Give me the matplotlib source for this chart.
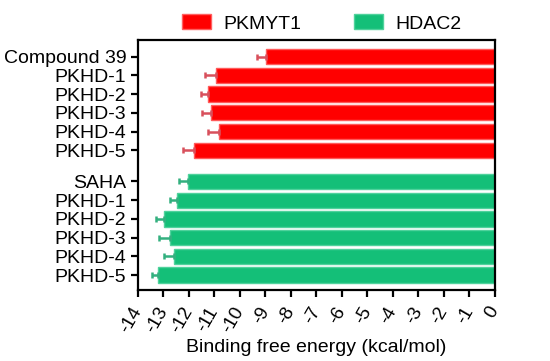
import numpy as np
import matplotlib
matplotlib.use('Agg')
import matplotlib.pyplot as plt
from matplotlib.patches import Patch

plt.rcParams['font.family'] = ['Liberation Sans', 'DejaVu Sans']

# PKMYT1 group
pk_names = ['Compound 39', 'PKHD-1', 'PKHD-2', 'PKHD-3', 'PKHD-4', 'PKHD-5']
pk_vals = [-8.99, -10.94, -11.24, -11.15, -10.81, -11.79]
pk_err = [0.35, 0.45, 0.3, 0.35, 0.43, 0.43]

# HDAC2 group
hd_names = ['SAHA', 'PKHD-1', 'PKHD-2', 'PKHD-3', 'PKHD-4', 'PKHD-5']
hd_vals = [-12.03, -12.47, -12.97, -12.73, -12.58, -13.23]
hd_err = [0.36, 0.28, 0.32, 0.43, 0.4, 0.23]

red = '#ff0000'
green = '#14bf78'

fig = plt.figure(figsize=(5.5, 3.61), dpi=100)
ax = fig.add_axes([0.2509, 0.1967, 0.6491, 0.6925])

y_pk = np.arange(len(pk_names))
y_hd = np.arange(len(hd_names)) + len(pk_names) + 0.67

ax.barh(y_pk, pk_vals, height=0.82, color=red, edgecolor='#ff5a5a', linewidth=1)
ax.barh(y_hd, hd_vals, height=0.82, color=green, edgecolor='#4fd29c', linewidth=1)
ax.errorbar(pk_vals, y_pk, xerr=[pk_err, [0] * len(pk_err)], fmt='none',
            ecolor='#d8505c', elinewidth=1.8, capsize=2.5, capthick=1.8)
ax.errorbar(hd_vals, y_hd, xerr=[hd_err, [0] * len(hd_err)], fmt='none',
            ecolor='#33b07f', elinewidth=1.8, capsize=2.5, capthick=1.8)

ax.set_yticks(list(y_pk) + list(y_hd))
ax.set_yticklabels(pk_names + hd_names, fontsize=14)
ax.set_ylim(12.47, -0.89)

ax.set_xlim(-14, 0)
ax.set_xticks(range(-14, 1))
ax.set_xticklabels([str(v) for v in range(-14, 1)], fontsize=13.5,
                   rotation=60, ha='right', va='center', rotation_mode='anchor')
ax.tick_params(axis='x', pad=8)
ax.set_xlabel('Binding free energy (kcal/mol)', fontsize=14, labelpad=2)

for s in ax.spines.values():
    s.set_linewidth(1.6)
ax.tick_params(width=1.6, length=5)

handles = [Patch(facecolor=red, edgecolor='#ff6060', label='PKMYT1'),
           Patch(facecolor=green, edgecolor='#4fd29c', label='HDAC2')]
fig.legend(handles=handles, loc='center', bbox_to_anchor=(0.585, 0.935), ncol=2,
           frameon=False, fontsize=14, handlelength=1.5, handleheight=0.8,
           handletextpad=0.65, columnspacing=2.7)

fig.savefig('out.png', dpi=100)
